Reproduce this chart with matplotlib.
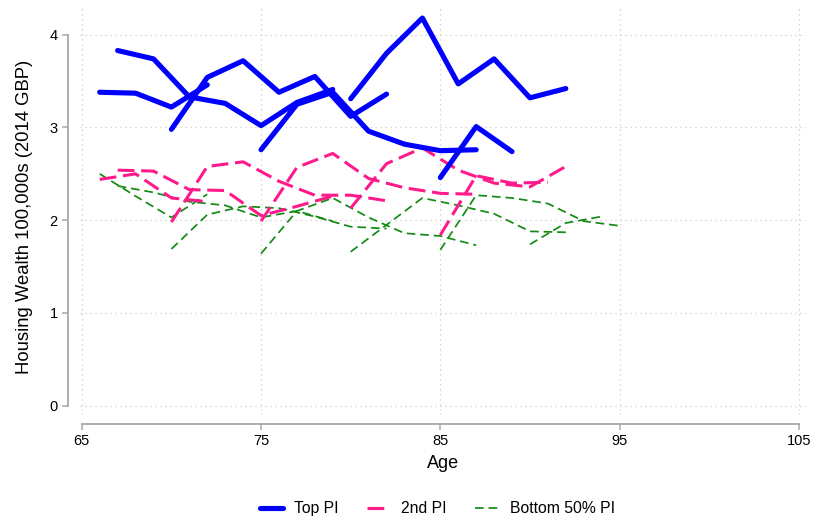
import matplotlib
matplotlib.use('Agg')
import matplotlib.pyplot as plt

plt.rcParams['font.family'] = ['Liberation Sans', 'DejaVu Sans']

# cohort ages (same start ages for every income group, plus a 90 cohort for the bottom group)
cohort_ages = {
    66: [66, 68, 70, 72],
    67: [67, 69, 71, 73, 75, 77, 79],
    70: [70, 72, 74, 76, 78, 80, 82],
    75: [75, 77, 79, 81, 83, 85, 87],
    80: [80, 82, 84, 86, 88, 90, 92],
}

top_pi = {
    66: [3.38, 3.37, 3.22, 3.46],
    67: [3.83, 3.74, 3.33, 3.26, 3.02, 3.27, 3.41],
    70: [2.98, 3.54, 3.72, 3.38, 3.55, 3.12, 3.36],
    75: [2.76, 3.25, 3.38, 2.96, 2.82, 2.75, 2.76],
    80: [3.31, 3.80, 4.18, 3.47, 3.74, 3.32, 3.42],
}
top_pi_85_ages = [85, 87, 89]
top_pi_85 = [2.46, 3.01, 2.74]

second_pi = {
    66: [2.44, 2.50, 2.24, 2.20],
    67: [2.54, 2.53, 2.33, 2.32, 2.05, 2.15, 2.26],
    70: [1.98, 2.58, 2.63, 2.42, 2.27, 2.27, 2.21],
    75: [1.99, 2.57, 2.72, 2.45, 2.35, 2.29, 2.28],
    80: [2.13, 2.61, 2.78, 2.54, 2.40, 2.36, 2.58],
}
second_pi_85_ages = [85, 87, 89, 91]
second_pi_85 = [1.84, 2.48, 2.40, 2.41]

bottom_pi = {
    66: [2.50, 2.26, 2.03, 2.28],
    67: [2.37, 2.30, 2.20, 2.16, 2.03, 2.10, 1.99],
    70: [1.69, 2.06, 2.15, 2.13, 2.04, 1.93, 1.91],
    75: [1.64, 2.10, 2.24, 2.03, 1.86, 1.83, 1.73],
    80: [1.66, 1.95, 2.24, 2.16, 2.07, 1.88, 1.87],
}
bottom_pi_85_ages = [85, 87, 89, 91, 93, 95]
bottom_pi_85 = [1.68, 2.27, 2.24, 2.18, 1.99, 1.94]
bottom_pi_90_ages = [90, 92, 94]
bottom_pi_90 = [1.74, 1.97, 2.04]

x_ticks = [65, 75, 85, 95, 105]
y_ticks = [0, 1, 2, 3, 4]

TOP_STYLE = dict(color='#0000ff', lw=3.7, solid_capstyle='round', solid_joinstyle='round')
SECOND_STYLE = dict(color='#ff1a8c', lw=2.2, dashes=(5.5, 2.2))
BOTTOM_STYLE = dict(color='#138a13', lw=1.25, dashes=(5, 2.8))


def plot_group(ax, values, extra, style, label):
    first = True
    for start, vals in values.items():
        ax.plot(cohort_ages[start], vals, label=label if first else None, **style)
        first = False
    for ages, vals in extra:
        ax.plot(ages, vals, **style)


fig = plt.figure(figsize=(8.14, 5.22), dpi=100)
ax = fig.add_axes([80 / 814, 1 - 415 / 522, 726 / 814, 409 / 522])

plot_group(ax, bottom_pi, [(bottom_pi_85_ages, bottom_pi_85), (bottom_pi_90_ages, bottom_pi_90)],
           BOTTOM_STYLE, 'Bottom 50% PI')
plot_group(ax, second_pi, [(second_pi_85_ages, second_pi_85)], SECOND_STYLE, '2nd PI')
plot_group(ax, top_pi, [(top_pi_85_ages, top_pi_85)], TOP_STYLE, 'Top PI')

ax.set_xlim(64.9, 105.4)
ax.set_ylim(-0.1, 4.31)
ax.set_xticks(x_ticks)
ax.set_yticks(y_ticks)
ax.grid(True, color='#cccccc', linestyle=(0, (1, 3)), lw=0.9)
ax.set_axisbelow(True)

for side in ['top', 'right']:
    ax.spines[side].set_visible(False)
ax.spines['left'].set_position(('outward', 8.6))
ax.spines['bottom'].set_position(('outward', 6.5))
ax.spines['left'].set_bounds(0, 4)
ax.spines['bottom'].set_bounds(65, 105)
for side in ['left', 'bottom']:
    ax.spines[side].set_color('#a8a8a8')
    ax.spines[side].set_linewidth(1.3)
ax.tick_params(colors='#a8a8a8', length=4, width=1.1, labelcolor='black', labelsize=10.5)

ax.set_xlabel('Age', fontsize=13, labelpad=5)
ax.set_ylabel('Housing Wealth 100,000s (2014 GBP)', fontsize=13.3)
ax.yaxis.set_label_coords(-0.065, 0.484)

handles, labels = ax.get_legend_handles_labels()
order = [2, 1, 0]
fig.legend([handles[i] for i in order], [labels[i] for i in order], loc='lower center',
           bbox_to_anchor=(0.537, -0.016), ncol=3, frameon=False, fontsize=11.3,
           handlelength=1.5, columnspacing=1.8, handletextpad=0.7)

fig.savefig('out.png', dpi=100)
